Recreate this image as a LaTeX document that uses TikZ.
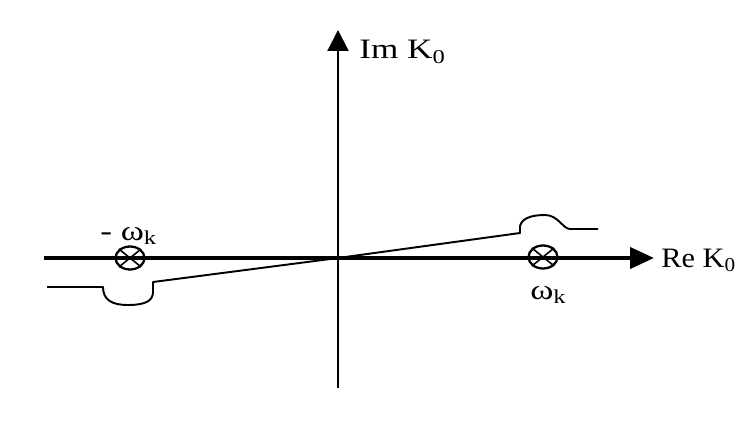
\documentclass[tikz,border=0pt]{standalone}
\usepackage{fontspec}
\setmainfont{Liberation Serif}
\usetikzlibrary{arrows.meta,shapes.geometric}

% wide text, as in the scanned figure
\newcommand{\widetxt}[1]{\scalebox{1.25}[1]{#1}}

\begin{document}
\begin{tikzpicture}[x=0.02cm, y=-0.02cm,
    font=\fontsize{16}{19}\selectfont,
    pole/.style={draw, ellipse, line width=1.3pt, minimum width=0.58cm, minimum height=0.46cm, inner sep=0pt},
    contour/.style={line width=1.1pt, line join=round},
    lbl/.style={inner sep=0pt}]
        \useasboundingbox (0,0) rectangle (742,422);

        % Axes
        \coordinate (origin) at (338,258);
        \coordinate (reStart) at (44,258);
        \coordinate (reEnd) at (654,258);
        \coordinate (imStart) at (338,388);
        \coordinate (imEnd) at (338,30);
        \draw[line width=2.3pt, -{Triangle[length=0.48cm, width=0.42cm]}] (reStart) -- (reEnd);
        \draw[line width=1.2pt, -{Triangle[length=0.42cm, width=0.42cm]}] (imStart) -- (imEnd);
        \node[lbl, anchor=base west] (reLabel) at (661,267) {\scalebox{1.08}[1]{Re K\textsubscript{0}}};
        \node[lbl, anchor=base west] (imLabel) at (359,59) {\widetxt{Im K\textsubscript{0}}};

        % Poles
        \node[pole] (negPole) at (130,258) {};
        \node[pole] (posPole) at (543,257) {};
        \draw[line width=0.9pt] (negPole.north west) -- (negPole.south east) (negPole.north east) -- (negPole.south west);
        \draw[line width=0.9pt] (posPole.north west) -- (posPole.south east) (posPole.north east) -- (posPole.south west);
        \node[lbl, anchor=base west] (negLabel) at (100,240) {\widetxt{- ω\textsubscript{k}}};
        \node[lbl, anchor=base west] (posLabel) at (530,299) {\widetxt{ω\textsubscript{k}}};

        % Contour
        \coordinate (cStart) at (47,287);
        \coordinate (cLeftIn) at (103,287);
        \coordinate (cLeftLow) at (128,305);
        \coordinate (cLeftOut) at (153,292);
        \coordinate (cLeftUp) at (153,282);
        \coordinate (cRightIn) at (520,233);
        \coordinate (cRightUp) at (520,226);
        \coordinate (cRightTop) at (545,215);
        \coordinate (cRightOut) at (570,229);
        \coordinate (cEnd) at (598,229);
        \draw[contour] (cStart) -- (cLeftIn)
            .. controls (103,300) and (112,305) .. (cLeftLow)
            .. controls (145,305) and (153,301) .. (cLeftOut) -- (cLeftUp)
            -- (origin) -- (cRightIn) -- (cRightUp)
            .. controls (522,218) and (532,215) .. (cRightTop)
            .. controls (558,215) and (563,229) .. (cRightOut) -- (cEnd);
    \end{tikzpicture}
\end{document}
